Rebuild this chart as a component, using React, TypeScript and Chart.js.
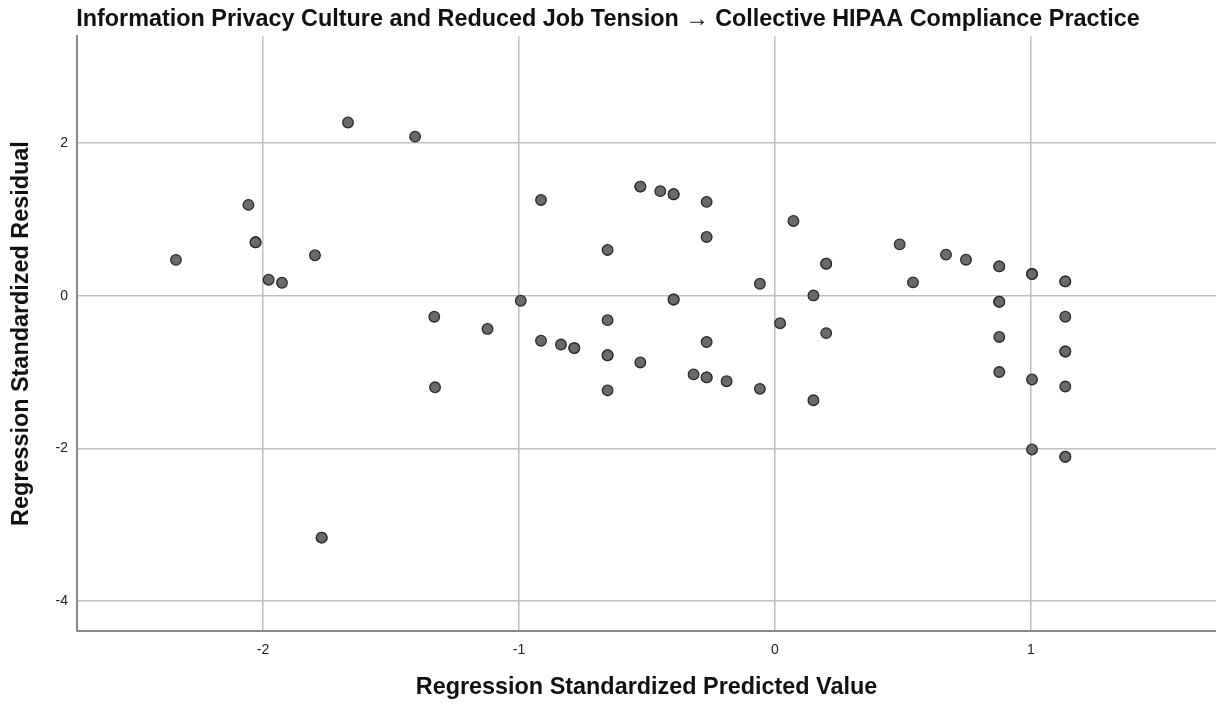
import React, { useEffect, useRef } from "react";
import { Chart, registerables } from "chart.js";

Chart.register(...registerables);

const chartTitle =
  "Information Privacy Culture and Reduced Job Tension \u2192 Collective HIPAA Compliance Practice";
const xAxisTitle = "Regression Standardized Predicted Value";
const yAxisTitle = "Regression Standardized Residual";

const xTickValues = [-2, -1, 0, 1];
const yTickValues = [-4, -2, 0, 2];

// Standardized predicted values (duplicates = overlapping cases)
const predicted = [
  -2.34, -2.057, -2.029, -2.029, -1.978, -1.926, -1.797, -1.668, -1.406, -1.771, -1.771,
  -1.331, -1.328, -1.123, -0.993, -0.914, -0.914, -0.836, -0.784, -0.784,
  -0.654, -0.654, -0.654, -0.654, -0.654, -0.526, -0.526, -0.526, -0.448,
  -0.396, -0.396, -0.396, -0.396, -0.318, -0.267, -0.267, -0.267, -0.267, -0.267,
  -0.189, -0.059, -0.059, 0.02, 0.072, 0.15, 0.15, 0.2, 0.2, 0.2,
  0.487, 0.539, 0.668, 0.746, 0.876, 0.876, 0.876, 0.876, 0.876, 0.876,
  1.004, 1.004, 1.004, 1.004, 1.134, 1.134, 1.134, 1.134, 1.134, 1.134, 1.134, 1.134,
];

// Standardized residuals
const residual = [
  0.47, 1.19, 0.7, 0.7, 0.21, 0.17, 0.53, 2.27, 2.085, -3.17, -3.17,
  -0.275, -1.2, -0.435, -0.066, 1.255, -0.59, -0.64, -0.686, -0.686,
  0.6, -0.32, -0.78, -0.78, -1.24, 1.43, 1.43, -0.874, 1.37,
  1.33, 1.33, -0.05, -0.05, -1.03, 1.23, 0.77, -0.607, -1.07, -1.07,
  -1.12, 0.157, -1.22, -0.36, 0.98, 0.004, -1.37, 0.42, 0.42, -0.49,
  0.673, 0.175, 0.538, 0.472, 0.385, 0.385, -0.079, -0.079, -0.54, -1.0,
  0.284, 0.284, -1.097, -2.015, 0.188, 0.188, -0.275, -0.73, -0.73, -1.19, -2.11, -2.11,
];

const FONT = "'Liberation Sans', Arial, sans-serif";

export default function App() {
  const canvasRef = useRef<HTMLCanvasElement | null>(null);

  useEffect(() => {
    const canvas = canvasRef.current;
    if (!canvas) return;
    const points = predicted.map((x, i) => ({ x, y: residual[i] }));
    const chart = new Chart(canvas, {
      type: "scatter",
      data: {
        datasets: [
          {
            data: points,
            backgroundColor: "#6a6a6a",
            borderColor: "#2a2a2a",
            borderWidth: 1.3,
            pointRadius: 5.3,
            pointHoverRadius: 5.3,
          },
        ],
      },
      options: {
        responsive: false,
        animation: false,
        maintainAspectRatio: false,
        layout: { padding: 0, autoPadding: false },
        plugins: {
          legend: { display: false },
          tooltip: { enabled: false },
          title: {
            display: true,
            text: chartTitle,
            color: "#111",
            font: { family: FONT, size: 23.4, weight: "bold" },
            padding: { top: 6, bottom: 2 },
          },
        },
        scales: {
          x: {
            type: "linear",
            min: -2.7266,
            max: 1.7227,
            afterBuildTicks: (axis: any) => {
              axis.ticks = xTickValues.map((v) => ({ value: v }));
            },
            afterFit: (scale: any) => {
              scale.height = 78;
            },
            ticks: {
              color: "#222",
              font: { family: FONT, size: 14 },
              padding: 11,
              callback: (v: any) => String(v),
            },
            grid: {
              color: "#bfbfbf",
              lineWidth: 1.5,
              drawTicks: false,
            },
            border: { display: true, color: "#888888", width: 2 },
            title: {
              display: true,
              text: xAxisTitle,
              color: "#111",
              font: { family: FONT, size: 23.4, weight: "bold" },
              padding: { top: 0, bottom: 7 },
            },
          },
          y: {
            type: "linear",
            min: -4.393,
            max: 3.402,
            afterBuildTicks: (axis: any) => {
              axis.ticks = yTickValues.map((v) => ({ value: v }));
            },
            afterFit: (scale: any) => {
              scale.width = 77;
            },
            ticks: {
              color: "#222",
              font: { family: FONT, size: 14 },
              padding: 9,
              callback: (v: any) => String(v),
            },
            grid: {
              color: "#bfbfbf",
              lineWidth: 1.5,
              drawTicks: false,
            },
            border: { display: true, color: "#888888", width: 2 },
            title: {
              display: true,
              text: yAxisTitle,
              color: "#111",
              font: { family: FONT, size: 23.4, weight: "bold" },
              padding: { top: 8, bottom: 0 },
            },
          },
        },
      },
    });
    return () => chart.destroy();
  }, []);

  return (
    <div
      style={{
        position: "fixed",
        left: 0,
        top: 0,
        width: 1216,
        height: 709,
        background: "#fff",
      }}
    >
      <canvas ref={canvasRef} width={1216} height={709} style={{ width: 1216, height: 709, display: "block" }} />
    </div>
  );
}
